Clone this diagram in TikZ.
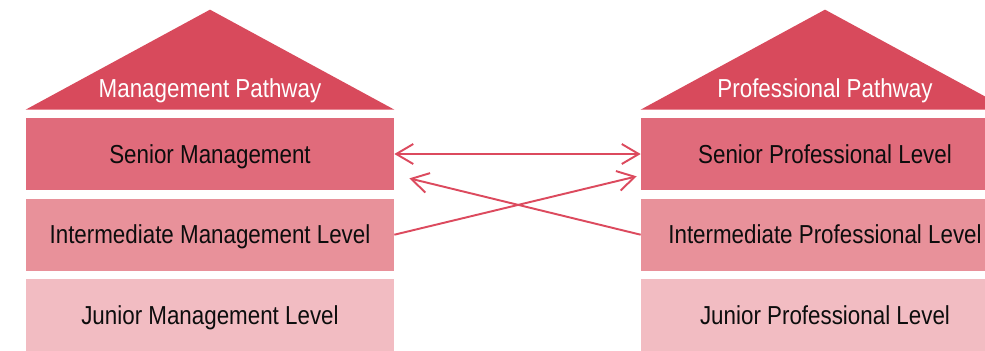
\documentclass[tikz,border=0pt]{standalone}
\usepackage{fontspec}
\setmainfont{Liberation Sans}[FakeStretch=0.86]
\usetikzlibrary{arrows.meta,positioning,calc}
\definecolor{roofred}{HTML}{D84A5C}
\definecolor{tierA}{HTML}{E06B7B}
\definecolor{tierB}{HTML}{E8919A}
\definecolor{tierC}{HTML}{F2BCC2}
\definecolor{linkred}{HTML}{DC4A5E}
\tikzset{
  tier/.style={minimum width=7.36cm, minimum height=1.44cm, inner sep=0pt, text height=2.2ex, text depth=0.2ex, font=\fontsize{14.8}{17}\selectfont, text=black!95},
  roof/.style={fill=roofred},
  link/.style={draw=linkred, line width=1.1pt, >={Straight Barb[length=3.4mm,width=4mm]}}
}
\begin{document}
\begin{tikzpicture}[lbl/.style={font=\fontsize{14.8}{17}\selectfont, text=white}]
\useasboundingbox (0,0) rectangle (19.7,7);
\clip (0,0) rectangle (19.7,7);
% management pathway
\node[tier, fill=tierA] (sm) at (4.2,3.92) {Senior Management};
\node[tier, fill=tierB, below=0.16cm of sm] (im) {Intermediate Management Level};
\node[tier, fill=tierC, below=0.16cm of im] (jm) {Junior Management Level};
\fill[roof] ($(sm.north west)+(0,0.16)$) -- ($(sm.north)+(0,2.16)$) -- ($(sm.north east)+(0,0.16)$) -- cycle;
\node[lbl] (mp) at ($(sm.north)+(0,0.54)$) {Management Pathway};
% professional pathway
\node[tier, fill=tierA] (sp) at (16.5,3.92) {Senior Professional Level};
\node[tier, fill=tierB, below=0.16cm of sp] (ip) {Intermediate Professional Level};
\node[tier, fill=tierC, below=0.16cm of ip] (jp) {Junior Professional Level};
\fill[roof] ($(sp.north west)+(0,0.16)$) -- ($(sp.north)+(0,2.16)$) -- ($(sp.north east)+(0,0.16)$) -- cycle;
\node[lbl] (pp) at ($(sp.north)+(0,0.54)$) {Professional Pathway};
% links
\coordinate (tipL) at ($(sm.south east)+(0.3,0.24)$);
\coordinate (tipR) at ($(sp.south west)+(-0.08,0.28)$);
\draw[link, <->] (sm.east) -- (sp.west);
\draw[link, ->] (ip.west) -- (tipL);
\draw[link, ->] (im.east) -- (tipR);
\end{tikzpicture}
\end{document}
